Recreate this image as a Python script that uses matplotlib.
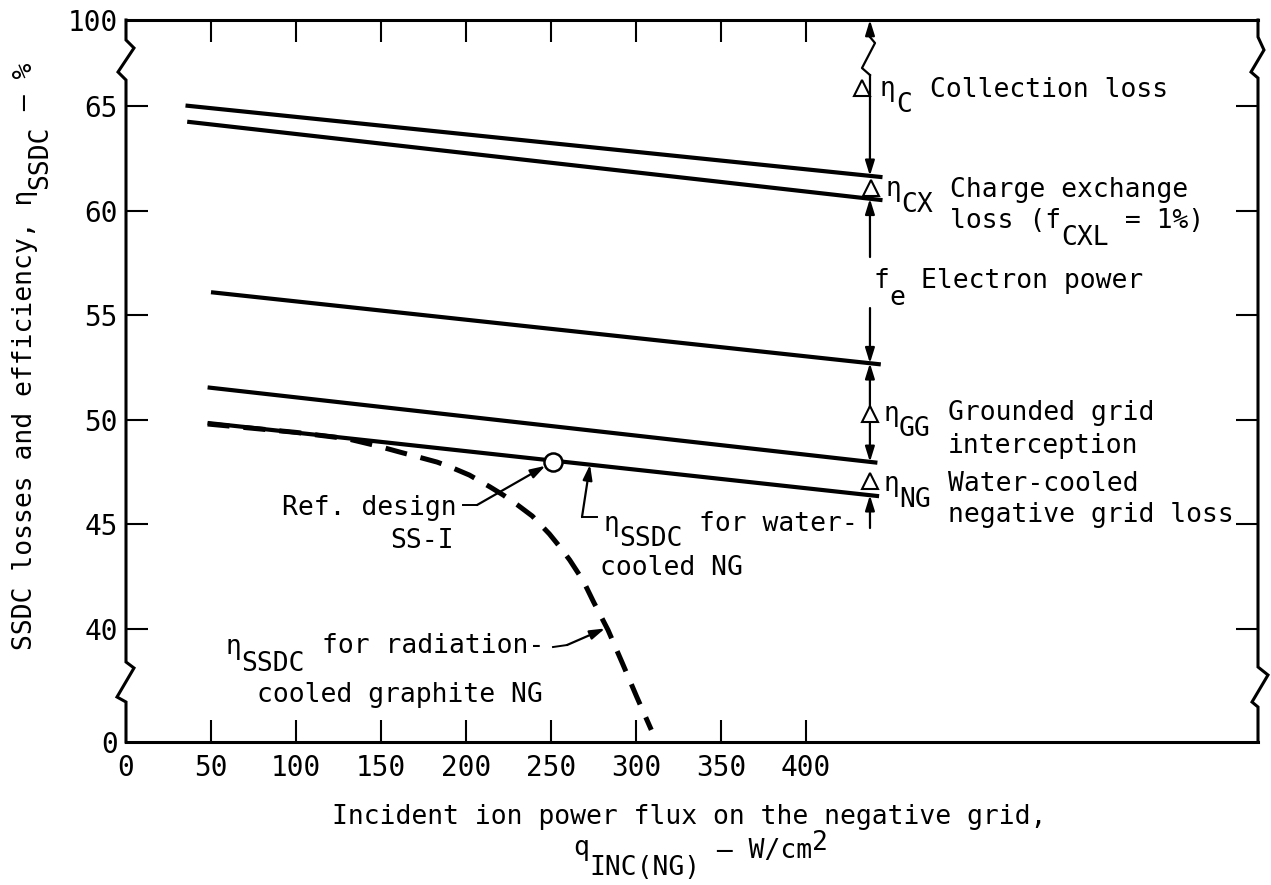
import numpy as np
import matplotlib.pyplot as plt
from matplotlib.lines import Line2D

plt.rcParams['font.family'] = 'DejaVu Sans Mono'

# figure / axes box, in pixels of the original drawing
W, H = 1271, 885
AX_L, AX_R, AX_T, AX_B = 126, 1258, 20, 742
FS = 19

# tick values
x_ticks = [0, 50, 100, 150, 200, 250, 300, 350, 400]
y_ticks = [0, 40, 45, 50, 55, 60, 65, 100]

# solid lines (water-cooled NG), end points
line_x = [[35, 445], [36, 445], [50, 444], [48, 442], [48, 443]]
line_y = [[65.2, 61.6], [64.25, 60.5], [56.1, 52.65], [51.55, 47.95], [49.85, 46.35]]

# radiation-cooled graphite NG (dashed)
rad_x = [48, 100, 130, 148, 161, 173, 183, 191, 202, 214, 222, 230, 239, 249,
         255, 261, 269, 275, 283.5, 292, 300.5, 309]
rad_y = [49.8, 49.4, 49.1, 48.75, 48.46, 48.2, 47.98, 47.74, 47.36, 46.8, 46.4,
         45.95, 45.4, 44.55, 43.95, 43.3, 42.3, 41.3, 39.7, 27.9, 15.9, 4.3]

# reference design SS-I
ref_x, ref_y = 251, 48.0

# loss breakdown column
col_x = 437.6
tri_x = [433, 438, 437.6, 437.6]
tri_y = [72.3, 61.1, 50.3, 47.1]


# broken y axis: 0-40 and 65-100 are squeezed
def fwd(y):
    y = np.asarray(y, dtype=float)
    return np.where(y < 40, 40 - (40 - y) * 0.135,
                    np.where(y > 65, 65 + (y - 65) * 0.1175, y))


def inv(v):
    v = np.asarray(v, dtype=float)
    return np.where(v < 40, 40 - (40 - v) / 0.135,
                    np.where(v > 65, 65 + (v - 65) / 0.1175, v))


def to_data(xp, yp):
    # pixel position on the original drawing -> data coords
    x = (xp - AX_L) / 1.7
    v = 65 - (yp - 106) / 20.92
    return x, float(inv(v))


def to_ax(xp, yp):
    return (xp - AX_L) / (AX_R - AX_L), (AX_B - yp) / (AX_B - AX_T)


fig = plt.figure(figsize=(W / 100, H / 100), dpi=100)
ax = fig.add_axes([AX_L / W, 1 - AX_B / H, (AX_R - AX_L) / W, (AX_B - AX_T) / H])
ax.set_yscale('function', functions=(fwd, inv))
ax.set_xlim(0, (AX_R - AX_L) / 1.7)
ax.set_ylim(0, 100)

ax.set_xticks(x_ticks)
ax.set_xticklabels([str(t) for t in x_ticks])
ax.set_yticks(y_ticks)
ax.set_yticklabels([str(t) for t in y_ticks])
ax.tick_params(direction='in', top=True, right=True, length=16, width=1.5,
               labelsize=20)
ax.tick_params(axis='x', pad=9)
ax.tick_params(axis='y', pad=6)
for t in [ax.xaxis.get_major_ticks()[0], ax.yaxis.get_major_ticks()[0],
          ax.yaxis.get_major_ticks()[-1]]:
    t.tick1line.set_visible(False)
    t.tick2line.set_visible(False)

for s in ['top', 'bottom']:
    ax.spines[s].set_linewidth(2.2)
for s in ['left', 'right']:
    ax.spines[s].set_visible(False)

# side frames with break marks
left_px = [(126, 20), (126, 40), (134, 48), (118, 72), (126, 80),
           (126, 662), (134, 668), (117, 697), (126, 702), (126, 742)]
right_px = [(1258, 20), (1258, 37), (1264, 50), (1251, 72), (1258, 78),
            (1258, 667), (1268, 675), (1252, 702), (1258, 707), (1258, 742)]
for pts in [left_px, right_px]:
    xy = np.array([to_ax(*p) for p in pts])
    ax.add_line(Line2D(xy[:, 0], xy[:, 1], transform=ax.transAxes, color='k',
                       lw=2.2, clip_on=False, solid_joinstyle='miter'))

# curves
for xs, ys in zip(line_x, line_y):
    ax.plot(xs, ys, color='k', lw=3, solid_capstyle='butt')
ax.plot(rad_x, rad_y, color='k', lw=3.6, dashes=(4.4, 2.8), dash_capstyle='butt')
ax.plot([ref_x], [ref_y], 'o', ms=13, mfc='white', mec='k', mew=1.8, zorder=5)


def arrow(tip, tail, style='-|>', shrink=0):
    ax.annotate('', xy=tip, xytext=tail,
                arrowprops=dict(arrowstyle=style + ',head_length=0.9,head_width=0.28',
                                lw=1.6, color='k', shrinkA=0, shrinkB=shrink,
                                mutation_scale=10))


def line_at(i, x):
    return float(np.interp(x, line_x[i], line_y[i]))


# loss column
arrow((col_x, 100), to_data(870, 37))
zz = np.array([to_data(*p) for p in [(870, 37), (875, 43), (862, 68), (870, 75)]])
ax.plot(zz[:, 0], zz[:, 1], color='k', lw=1.6)
arrow((col_x, line_at(0, col_x)), to_data(870, 75))
arrow((col_x, line_at(1, col_x)), to_data(870, 257))
arrow((col_x, line_at(2, col_x)), to_data(870, 308))
arrow((col_x, line_at(2, col_x)), (col_x, line_at(3, col_x)), style='<|-|>')
arrow((col_x, line_at(4, col_x)), to_data(870, 528))
ax.plot(tri_x, tri_y, '^', ms=11, mfc='white', mec='k', mew=1.5, zorder=5)

# ref design leader
p1, p2 = to_data(463, 505), to_data(477, 505)
ax.plot([p1[0], p2[0]], [p1[1], p2[1]], color='k', lw=1.4)
arrow((ref_x, ref_y), p2, shrink=6)

# water-cooled bracket
b1, b2 = to_data(597, 517), to_data(582, 517)
ax.plot([b1[0], b2[0]], [b1[1], b2[1]], color='k', lw=1.4)
wx = to_data(590, 468)[0]
arrow((wx, line_at(4, wx)), b2)

# radiation-cooled leader
r1, r2 = to_data(553, 647), to_data(567, 645)
ax.plot([r1[0], r2[0]], [r1[1], r2[1]], color='k', lw=1.4)
rx = to_data(605, 632)[0]
arrow((rx, float(np.interp(rx, rad_x, rad_y))), r2)


def put(xp, yp, s, **kw):
    fig.text(xp / W, 1 - yp / H, s, fontsize=FS, va='baseline', ha='left', **kw)


# right-hand labels
put(880, 96, 'η'); put(896, 112, 'C'); put(930, 97, 'Collection loss')
put(885, 196, 'η'); put(901, 212, 'CX'); put(950, 197, 'Charge exchange')
put(950, 228, 'loss (f'); put(1061, 245, 'CXL'); put(1109, 228, ' = 1%)')
put(873, 288, 'f'); put(889, 305, 'e'); put(921, 288, 'Electron power')
put(883, 421, 'η'); put(899, 436, 'GG'); put(948, 420, 'Grounded grid')
put(948, 453, 'interception')
put(883, 491, 'η'); put(899, 507, 'NG'); put(948, 491, 'Water-cooled')
put(948, 522, 'negative grid loss')

# curve labels
put(282, 515, 'Ref. design'); put(390, 548, 'SS-I')
put(603, 531, 'η'); put(619, 546, 'SSDC'); put(699, 531, 'for water-')
put(600, 575, 'cooled NG')
put(225, 654, 'η'); put(241, 671, 'SSDC'); put(322, 653, 'for radiation-')
put(257, 702, 'cooled graphite NG')

# axis titles
put(332, 824, 'Incident ion power flux on the negative grid,')
put(573, 855, 'q'); put(589, 875, 'INC(NG)'); put(701, 858, ' — W/cm')
put(812, 850, '2')

put(32, 650, 'SSDC losses and efficiency, η', rotation=90, rotation_mode='anchor')
put(47, 189, 'SSDC', rotation=90, rotation_mode='anchor')
put(32, 126, ' — %', rotation=90, rotation_mode='anchor')

fig.savefig('out.png', dpi=100)
